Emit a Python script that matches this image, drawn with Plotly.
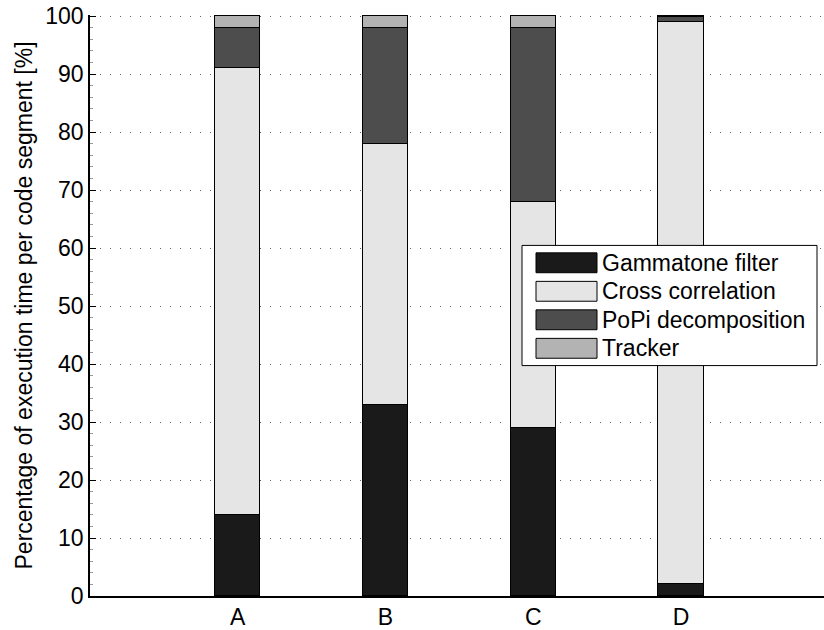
import plotly.graph_objects as go

categories = ["A", "B", "C", "D"]
x_pos = [1, 2, 3, 4]
gammatone = [14, 33, 29, 2]
cross_corr = [77, 45, 39, 97]
popi = [7, 20, 30, 0.8]
tracker = [2, 2, 2, 0.2]

series_names = ["Gammatone filter", "Cross correlation", "PoPi decomposition", "Tracker"]
series_values = [gammatone, cross_corr, popi, tracker]
series_colors = ["#1a1a1a", "#e5e5e5", "#4d4d4d", "#b3b3b3"]

y_ticks = list(range(0, 101, 10))

FONT = "Liberation Sans, Arial, Helvetica, sans-serif"
FS = 23

fig = go.Figure()
for name, vals, col in zip(series_names, series_values, series_colors):
    fig.add_trace(go.Bar(
        x=x_pos, y=vals, name=name,
        marker=dict(color=col, line=dict(color="#000000", width=1)),
        width=0.305, showlegend=False,
    ))

L, R, T, B = 90, 824, 15, 600  # plot area in page pixels
W, H = R - L, B - T
def px(x):
    return (x - L) / W
def py(y):
    return (B - y) / H

shapes = [dict(type="rect", xref="paper", yref="paper",
               x0=px(522), x1=px(817), y0=py(368), y1=py(247),
               line=dict(color="#000", width=1), fillcolor="white", layer="above")]
annotations = []
row_centers = [264.5, 293.2, 321.9, 350.6]
for name, col, yc in zip(series_names, series_colors, row_centers):
    shapes.append(dict(type="rect", xref="paper", yref="paper",
                       x0=px(536), x1=px(597), y0=py(yc + 10), y1=py(yc - 10),
                       line=dict(color="#000", width=1), fillcolor=col, layer="above"))
    annotations.append(dict(xref="paper", yref="paper", x=px(600), y=py(yc),
                            text=name, showarrow=False, xanchor="left", yanchor="middle",
                            font=dict(family=FONT, size=FS, color="#000")))

fig.update_layout(
    barmode="stack",
    width=824, height=630,
    margin=dict(l=L, r=824 - R, t=T, b=630 - B, pad=0),
    paper_bgcolor="white", plot_bgcolor="white",
    font=dict(family=FONT, size=FS, color="#000"),
    shapes=shapes, annotations=annotations,
    bargap=0,
)
fig.update_xaxes(
    range=[0, 4.968], tickmode="array", tickvals=x_pos, ticktext=categories,
    showline=True, linecolor="#000", linewidth=1.5, showgrid=False,
    ticks="", zeroline=False, tickfont=dict(size=FS),
)
fig.update_yaxes(
    range=[0, 100.2], tickmode="array", tickvals=y_ticks,
    showline=True, linecolor="#000", linewidth=1.5,
    showgrid=True, gridcolor="#666", griddash="1px,9px", gridwidth=1,
    ticks="inside", ticklen=6, tickcolor="#000", zeroline=False,
    ticklabeloverflow="allow",
    minor=dict(ticks="inside", ticklen=3, dtick=2, tickcolor="#999", showgrid=False),
    title=dict(text="Percentage of execution time per code segment [%]", font=dict(size=FS), standoff=6),
    tickfont=dict(size=FS),
)
fig.write_html("out.html", config={"displayModeBar": False},
               post_script="document.body.style.margin='0px';")
